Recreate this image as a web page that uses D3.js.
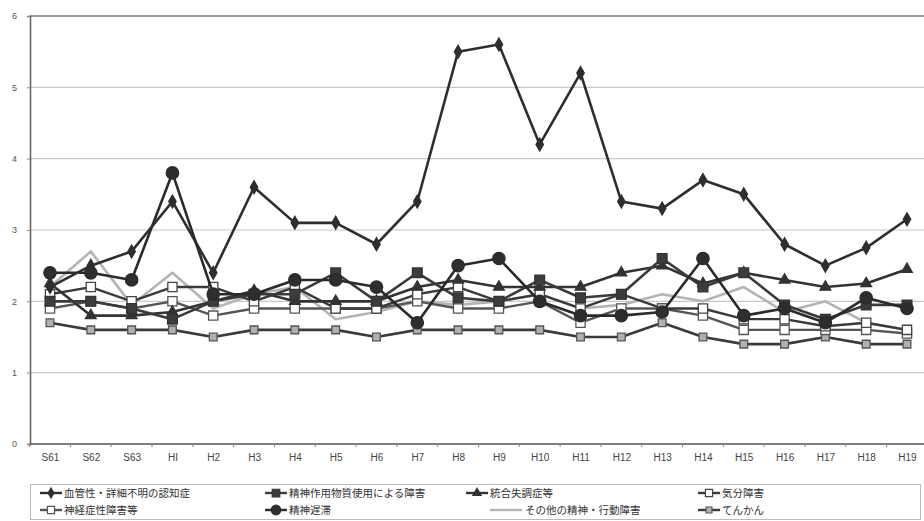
<!DOCTYPE html>
<html><head><meta charset="utf-8">
<script src="https://cdn.jsdelivr.net/npm/d3@7"></script>
<style>
html,body{margin:0;padding:0;background:#fff;}
svg{display:block;font-family:"Noto Sans CJK JP","Noto Sans",sans-serif;}
</style></head>
<body><svg id="c" width="924" height="521"></svg>
<script>
const categories = ["S61","S62","S63","HI","H2","H3","H4","H5","H6","H7","H8","H9","H10","H11","H12","H13","H14","H15","H16","H17","H18","H19"];
const yTicks = [0,1,2,3,4,5,6];
const seriesNames = ["血管性・詳細不明の認知症","精神作用物質使用による障害","統合失調症等","気分障害","神経症性障害等","精神遅滞","その他の精神・行動障害","てんかん"];
const dementia     = [2.2,2.5,2.7,3.4,2.4,3.6,3.1,3.1,2.8,3.4,5.5,5.6,4.2,5.2,3.4,3.3,3.7,3.5,2.8,2.5,2.75,3.15];
const substance    = [2.0,2.0,1.9,1.75,2.0,2.1,2.1,2.4,2.0,2.4,2.05,2.0,2.3,2.05,2.1,2.6,2.2,2.4,1.95,1.75,1.95,1.95];
const schizo       = [2.25,1.8,1.8,1.85,2.0,2.15,2.0,2.0,2.0,2.2,2.3,2.2,2.2,2.2,2.4,2.5,2.25,2.4,2.3,2.2,2.25,2.45];
const mood         = [2.1,2.2,2.0,2.2,2.2,2.0,2.2,1.9,1.9,2.1,2.2,2.0,2.1,1.9,2.1,1.9,1.9,1.75,1.75,1.65,1.7,1.6];
const neurotic     = [1.9,2.0,1.9,2.0,1.8,1.9,1.9,1.9,1.9,2.0,1.9,1.9,2.0,1.7,1.9,1.9,1.8,1.6,1.6,1.6,1.6,1.55];
const retardation  = [2.4,2.4,2.3,3.8,2.1,2.1,2.3,2.3,2.2,1.7,2.5,2.6,2.0,1.8,1.8,1.85,2.6,1.8,1.9,1.7,2.05,1.9];
const other        = [2.2,2.7,1.95,2.4,1.9,2.1,2.2,1.75,1.85,2.0,1.95,2.0,2.1,1.9,1.95,2.1,2.0,2.2,1.85,2.0,1.7,1.6];
const epilepsy     = [1.7,1.6,1.6,1.6,1.5,1.6,1.6,1.6,1.5,1.6,1.6,1.6,1.6,1.5,1.5,1.7,1.5,1.4,1.4,1.5,1.4,1.4];

const seriesData = [dementia,substance,schizo,mood,neurotic,retardation,other,epilepsy];
const styles = [
  {stroke:"#2e2e2e", w:2.6, marker:"diamond", size:48, fill:"#2e2e2e", mstroke:"#2e2e2e"},
  {stroke:"#3a3a3a", w:2.6, marker:"square", size:95, fill:"#3c3c3c", mstroke:"#333"},
  {stroke:"#333", w:2.6, marker:"triangle", size:50, fill:"#333", mstroke:"#333"},
  {stroke:"#3a3a3a", w:2.4, marker:"square", size:85, fill:"#fff", mstroke:"#444"},
  {stroke:"#555", w:2.4, marker:"square", size:85, fill:"#fff", mstroke:"#555"},
  {stroke:"#2a2a2a", w:2.6, marker:"circle", size:120, fill:"#2e2e2e", mstroke:"#2a2a2a"},
  {stroke:"#b4b4b4", w:2.6, marker:null},
  {stroke:"#3a3a3a", w:2.6, marker:"square", size:60, fill:"#b0b0b0", mstroke:"#555"}
];
const drawOrder = [6,7,4,3,2,1,5,0];

(function(){
const svg = d3.select("#c");
const pL = 30, pR = 924, pT = 16, pB = 444;
const x = d3.scalePoint().domain(categories).range([50, 907]);
const y = d3.scaleLinear().domain([0,6]).range([pB, pT]);

svg.append("g").selectAll("line").data(yTicks.filter(d=>d>0 && d<6)).join("line")
  .attr("x1", pL).attr("x2", pR).attr("y1", d=>y(d)).attr("y2", d=>y(d))
  .attr("stroke","#c8c8c8").attr("stroke-width",1.2);
svg.append("line").attr("x1",pL).attr("x2",pR).attr("y1",y(6)).attr("y2",y(6))
  .attr("stroke","#777").attr("stroke-width",1.4);

const ya = svg.append("g").attr("transform",`translate(${pL},0)`)
  .call(d3.axisLeft(y).tickValues(yTicks).tickSize(3).tickFormat(d3.format("d")));
ya.select(".domain").attr("stroke","#666").attr("stroke-width",1.6);
ya.selectAll(".tick line").attr("stroke","#888");
ya.selectAll(".tick text").attr("x",-13).attr("fill","#555").style("font-size","9px").style("font-family","Arial, 'Liberation Sans', sans-serif");

const xa = svg.append("g").attr("transform",`translate(0,${pB})`)
  .call(d3.axisBottom(x).tickSize(0).tickPadding(10));
xa.select(".domain").remove();
svg.append("line").attr("x1",pL).attr("x2",pR).attr("y1",pB).attr("y2",pB).attr("stroke","#555").attr("stroke-width",1.6);
xa.selectAll(".tick text").attr("fill","#444").style("font-size","10px").style("font-family","'Liberation Sans Narrow', Arial, sans-serif");
const step = x.step();
svg.append("g").selectAll("line").data(categories).join("line")
  .attr("x1", d=>x(d)-step/2).attr("x2", d=>x(d)-step/2)
  .attr("y1", pB).attr("y2", pB+3).attr("stroke","#888");

const symType = {diamond:d3.symbolDiamond, square:d3.symbolSquare, triangle:d3.symbolTriangle, circle:d3.symbolCircle};
const line = d3.line().x((d,i)=>x(categories[i])).y(d=>y(d));

drawOrder.forEach(k=>{
  const st = styles[k], data = seriesData[k];
  const g = svg.append("g");
  g.append("path").datum(data).attr("d", line).attr("fill","none")
    .attr("stroke", st.stroke).attr("stroke-width", st.w).attr("stroke-linejoin","round");
  if (st.marker) {
    g.selectAll("path.m").data(data).join("path").attr("class","m")
      .attr("transform",(d,i)=>`translate(${x(categories[i])},${y(d)})`)
      .attr("d", d3.symbol().type(symType[st.marker]).size(st.size))
      .attr("fill", st.fill).attr("stroke", st.mstroke).attr("stroke-width",1.3);
  }
});

const lg = svg.append("g");
lg.append("rect").attr("x",30.5).attr("y",484.5).attr("width",890).attr("height",35)
  .attr("fill","#fff").attr("stroke","#bbb");
const legPos = [[40,493],[265,493],[466,493],[698,493],[40,510],[265,510],[490,510],[698,510]];
seriesNames.forEach((name,k)=>{
  const st = styles[k]; const [lx,ly] = legPos[k];
  const it = lg.append("g").attr("transform",`translate(${lx},${ly})`);
  it.append("line").attr("x1",0).attr("x2",st.marker?22:32).attr("y1",0).attr("y2",0)
    .attr("stroke",st.stroke).attr("stroke-width",2.4);
  if (st.marker) {
    it.append("path").attr("transform","translate(11,0)")
      .attr("d", d3.symbol().type(symType[st.marker]).size(st.size*0.6))
      .attr("fill",st.fill).attr("stroke",st.mstroke).attr("stroke-width",1.2);
  }
  it.append("text").attr("x", st.marker?24:35).attr("y",0).attr("dy","0.35em")
    .attr("fill","#333").style("font-size","10.5px").text(name);
});
})();
</script></body></html>
